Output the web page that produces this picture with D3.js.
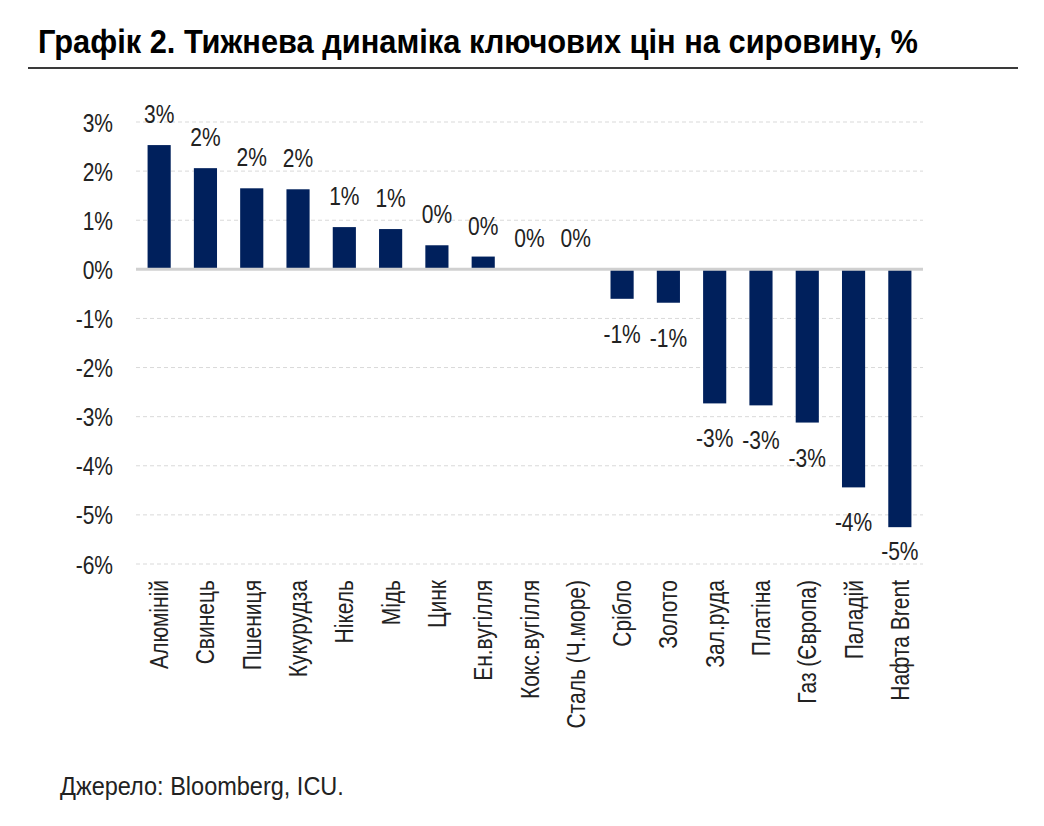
<!DOCTYPE html>
<html>
<head>
<meta charset="utf-8">
<script src="https://cdn.jsdelivr.net/npm/d3@7"></script>
<style>
  body { margin: 0; background: #fff; }
  svg text { font-family: "Liberation Sans", Arial, sans-serif; }
</style>
</head>
<body>
<script>
"use strict";

// Weekly change of key commodity prices, %
const categories = ["Алюміній", "Свинець", "Пшениця", "Кукурудза", "Нікель", "Мідь", "Цинк",
  "Ен.вугілля", "Кокс.вугілля", "Сталь (Ч.море)", "Срібло", "Золото", "Зал.руда",
  "Платіна", "Газ (Європа)", "Паладій", "Нафта Brent"];
const values = [2.53, 2.06, 1.65, 1.63, 0.86, 0.82, 0.49, 0.26, 0.0, 0.0,
  -0.60, -0.68, -2.73, -2.77, -3.12, -4.44, -5.25];
const yTicks = [3, 2, 1, 0, -1, -2, -3, -4, -5, -6];

const width = 1044, height = 826;
const margin = {left: 136, right: 121, top: 122, bottom: 262};
const narrow = 0.84; // fake a condensed face

function pct(d) {
  return Math.round(d) + "%";
}

// squeeze text horizontally, keeps it as real text
function squeeze(sel, k) {
  sel.each(function() {
    let w = this.getComputedTextLength();
    d3.select(this)
      .attr("textLength", w * k)
      .attr("lengthAdjust", "spacingAndGlyphs");
  });
}

const svg = d3.select("body").append("svg")
    .attr("width", width)
    .attr("height", height);

// title + rule
svg.append("text")
    .attr("x", 38)
    .attr("y", 53)
    .attr("font-size", 33)
    .attr("font-weight", "bold")
    .attr("fill", "#000")
    .attr("textLength", 880)
    .attr("lengthAdjust", "spacingAndGlyphs")
    .text("Графік 2. Тижнева динаміка ключових цін на сировину, %");

svg.append("line")
    .attr("x1", 28).attr("x2", 1018)
    .attr("y1", 68).attr("y2", 68)
    .attr("stroke", "#3a3a3a")
    .attr("stroke-width", 2);

const x = d3.scaleBand()
    .domain(categories)
    .range([margin.left, width - margin.right])
    .paddingInner(0.5)
    .paddingOuter(0.25);

const y = d3.scaleLinear()
    .domain([-6, 3])
    .range([height - margin.bottom, margin.top]);

// gridlines
svg.append("g")
    .selectAll("line")
    .data(yTicks.filter(d => d !== 0))
    .join("line")
    .attr("x1", margin.left)
    .attr("x2", width - margin.right)
    .attr("y1", d => y(d))
    .attr("y2", d => y(d))
    .attr("stroke", "#d9d9d9")
    .attr("stroke-width", 1)
    .attr("stroke-dasharray", "4,3");

// y axis labels
const yAxis = svg.append("g")
    .attr("transform", `translate(${margin.left},0)`)
    .call(d3.axisLeft(y).tickValues(yTicks).tickFormat(pct).tickSize(0).tickPadding(23));
yAxis.select(".domain").remove();
yAxis.attr("font-family", null);
yAxis.selectAll("text")
    .attr("font-size", 25)
    .attr("fill", "#222")
    .attr("dy", "0.36em")
    .call(squeeze, narrow);

// bars
svg.append("g")
    .selectAll("rect")
    .data(values)
    .join("rect")
    .attr("x", (d, i) => x(categories[i]))
    .attr("width", x.bandwidth())
    .attr("y", d => y(Math.max(0, d)))
    .attr("height", d => Math.abs(y(d) - y(0)))
    .attr("fill", "#00205c");

// zero line
svg.append("line")
    .attr("x1", margin.left)
    .attr("x2", width - margin.right)
    .attr("y1", y(0))
    .attr("y2", y(0))
    .attr("stroke", "#d0d0d0")
    .attr("stroke-width", 3);

// value labels
svg.append("g")
    .selectAll("text")
    .data(values)
    .join("text")
    .attr("x", (d, i) => x(categories[i]) + x.bandwidth() / 2)
    .attr("y", d => d >= 0 ? y(d) - 22 : Math.min(y(d) + 44, y(-6) - 4))
    .attr("text-anchor", "middle")
    .attr("font-size", 25)
    .attr("fill", "#222")
    .text(pct)
    .call(squeeze, narrow);

// category labels
const xAxis = svg.append("g")
    .attr("transform", `translate(0,${y(-6)})`)
    .call(d3.axisBottom(x).tickSize(0).tickPadding(0));
xAxis.select(".domain").remove();
xAxis.attr("font-family", null);
xAxis.selectAll("text")
    .attr("font-size", 25)
    .attr("fill", "#222")
    .attr("text-anchor", "end")
    .attr("transform", "rotate(-90)")
    .attr("x", -16)
    .attr("y", 0)
    .attr("dy", "0.36em")
    .call(squeeze, narrow);

// source
svg.append("text")
    .attr("x", 60)
    .attr("y", 795)
    .attr("font-size", 25)
    .attr("fill", "#222")
    .text("Джерело: Bloomberg, ICU.")
    .call(squeeze, 0.94);
</script>
</body>
</html>
